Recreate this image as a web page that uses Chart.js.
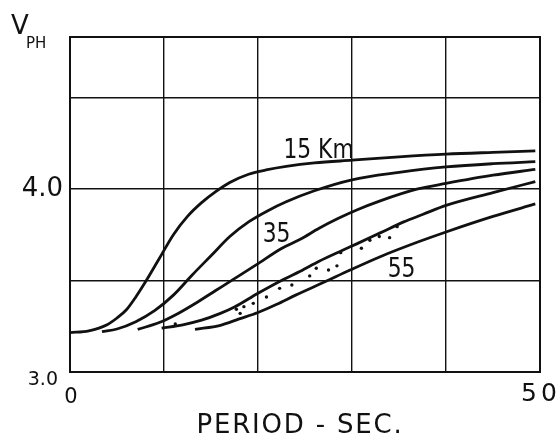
<!DOCTYPE html>
<html>
<head>
<meta charset="utf-8">
<script src="https://cdn.jsdelivr.net/npm/chart.js@4.4.1/dist/chart.umd.min.js"></script>
<style>
  html, body { margin: 0; padding: 0; background: #fff; }
  canvas { display: block; }
</style>
</head>
<body>
<canvas id="dispersion" width="557" height="437"></canvas>
<script>
// Phase velocity (km/s) against period (s) for several crustal thicknesses.
const period15 = [0, 2, 4, 5, 6, 7, 8, 9.5, 11, 12.5, 14, 15.5, 17, 19, 21, 23, 26, 30, 35, 40, 45, 49.5];
const vph15    = [3.215, 3.225, 3.26, 3.295, 3.34, 3.41, 3.49, 3.62, 3.75, 3.85, 3.925, 3.985, 4.035, 4.08, 4.105, 4.123, 4.142, 4.157, 4.175, 4.19, 4.2, 4.208];

const period25 = [3.4, 5, 7, 9, 11, 13, 15, 17, 19, 21, 23, 26, 30, 35, 40, 45, 49.5];
const vph25    = [3.22, 3.235, 3.275, 3.335, 3.42, 3.53, 3.635, 3.74, 3.82, 3.88, 3.93, 3.99, 4.05, 4.09, 4.12, 4.138, 4.149];

const period35 = [7.2, 9.5, 11.5, 13.5, 15.5, 17.5, 19.8, 22.5, 24.5, 26.5, 28.5, 30.5, 33, 37, 40, 45, 49.5];
const vph35    = [3.233, 3.27, 3.32, 3.38, 3.445, 3.51, 3.585, 3.675, 3.725, 3.785, 3.838, 3.885, 3.935, 4.0, 4.03, 4.075, 4.107];

const period45 = [9.75, 12, 14, 16, 17.5, 20, 22.5, 24.5, 26.5, 29, 30.5, 33, 35.5, 37.5, 40, 45, 49.5];
const vph45    = [3.24, 3.258, 3.283, 3.32, 3.355, 3.43, 3.5, 3.55, 3.605, 3.665, 3.7, 3.76, 3.82, 3.86, 3.91, 3.98, 4.04];

const period55 = [13.3, 16, 18, 20, 22, 24, 27, 29.8, 33, 37, 40, 45, 49.5];
const vph55    = [3.233, 3.255, 3.29, 3.325, 3.37, 3.42, 3.49, 3.557, 3.63, 3.71, 3.765, 3.85, 3.918];

// Observed phase velocities
const obsPeriod = [11.2, 17.7, 18.1, 18.5, 19.5, 20.9, 22.3, 23.6, 25.5, 26.2, 27.5, 28.4, 28.8, 31.0, 31.9, 32.9, 34.0, 34.8];
const obsVph    = [3.262, 3.343, 3.32, 3.357, 3.375, 3.41, 3.457, 3.475, 3.525, 3.567, 3.557, 3.58, 3.652, 3.676, 3.72, 3.74, 3.734, 3.794];

// Axes
const xGrid = [0, 10, 20, 30, 40, 50];
const yGrid = [3.0, 3.5, 4.0, 4.5];
const xTickValues = [0, 50];
const xTickLabels = ['0', '50'];
const yTickValues = [3.0, 4.0];
const yTickLabels = ['3.0', '4.0'];

// Curve labels: text with the period / velocity where it sits
const curveLabelText   = ['15 Km', '35', '55'];
const curveLabelPeriod = [22.7, 20.5, 33.8];
const curveLabelVph    = [4.17, 3.71, 3.52];

const INK = '#111';
const FONT = '"DejaVu Sans", "Liberation Sans", sans-serif';

const toPoints = (xs, ys) => xs.map((x, i) => ({ x, y: ys[i] }));

const curve = (label, xs, ys) => ({
  label,
  data: toPoints(xs, ys),
  borderColor: INK,
  borderWidth: 2.8,
  pointRadius: 0,
  fill: false,
  cubicInterpolationMode: 'monotone'
});

function drawText(ctx, text, x, y, o) {
  ctx.save();
  ctx.font = `${o.size}px ${FONT}`;
  ctx.fillStyle = INK;
  ctx.textAlign = o.align || 'left';
  ctx.textBaseline = o.baseline || 'alphabetic';
  ctx.letterSpacing = (o.spacing || 0) + 'px';
  ctx.translate(x, y);
  ctx.scale(o.scaleX || 1, 1);
  ctx.fillText(text, 0, 0);
  ctx.restore();
}

// Frame around the plotting area
const framePlugin = {
  id: 'frame',
  beforeDatasetsDraw(chart) {
    const { ctx, chartArea: a } = chart;
    ctx.save();
    ctx.strokeStyle = INK;
    ctx.lineWidth = 2;
    ctx.strokeRect(a.left, a.top, a.right - a.left, a.bottom - a.top);
    ctx.restore();
  }
};

// Tick labels, axis titles and curve labels
const textPlugin = {
  id: 'figureText',
  afterDatasetsDraw(chart) {
    const { ctx, scales: { x, y } } = chart;

    yTickValues.forEach((v, i) => {
      const big = v === 4.0;
      drawText(ctx, yTickLabels[i], x.left - (big ? 7 : 12), y.getPixelForValue(v) + (big ? 0 : 8),
        { size: big ? 26 : 19, align: 'right', baseline: 'middle' });
    });

    xTickValues.forEach((v, i) => {
      const first = i === 0;
      drawText(ctx, xTickLabels[i], x.getPixelForValue(v) + 1, y.bottom + (first ? 31 : 29),
        { size: first ? 21 : 25, align: 'center', spacing: first ? 0 : 4 });
    });

    drawText(ctx, 'PERIOD - SEC.', 300, 433, { size: 26, align: 'center', spacing: 1.8 });

    drawText(ctx, 'V', 11, 34, { size: 26 });
    drawText(ctx, 'PH', 26, 48, { size: 15 });

    curveLabelText.forEach((t, i) => {
      drawText(ctx, t, x.getPixelForValue(curveLabelPeriod[i]), y.getPixelForValue(curveLabelVph[i]),
        { size: 26, scaleX: 0.84 });
    });
  }
};

new Chart(document.getElementById('dispersion'), {
  type: 'line',
  data: {
    datasets: [
      curve('15 km', period15, vph15),
      curve('25 km', period25, vph25),
      curve('35 km', period35, vph35),
      curve('45 km', period45, vph45),
      curve('55 km', period55, vph55),
      {
        label: 'observed',
        type: 'scatter',
        data: toPoints(obsPeriod, obsVph),
        showLine: false,
        pointRadius: 1.7,
        pointBorderWidth: 0,
        pointBackgroundColor: INK
      }
    ]
  },
  options: {
    responsive: false,
    animation: false,
    devicePixelRatio: 1,
    layout: { padding: { left: 70, right: 17, top: 37, bottom: 65 } },
    plugins: { legend: { display: false }, tooltip: { enabled: false } },
    scales: {
      x: {
        type: 'linear',
        min: 0,
        max: 50,
        afterBuildTicks: s => { s.ticks = xGrid.map(v => ({ value: v })); },
        ticks: { display: false },
        grid: { color: INK, lineWidth: 1.4, drawTicks: false },
        border: { display: false }
      },
      y: {
        type: 'linear',
        min: 3.0,
        max: 4.83,
        afterBuildTicks: s => { s.ticks = yGrid.map(v => ({ value: v })); },
        ticks: { display: false },
        grid: { color: INK, lineWidth: 1.4, drawTicks: false },
        border: { display: false }
      }
    }
  },
  plugins: [framePlugin, textPlugin]
});
</script>
</body>
</html>
